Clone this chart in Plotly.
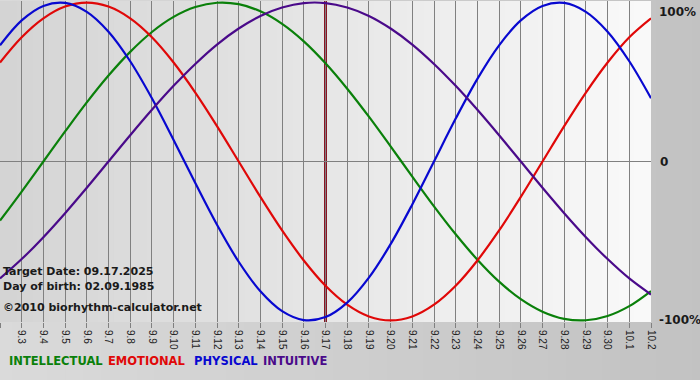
import plotly.graph_objects as go

# ---- data ----
dates = ["9.2", "9.3", "9.4", "9.5", "9.6", "9.7", "9.8", "9.9", "9.10", "9.11",
         "9.12", "9.13", "9.14", "9.15", "9.16", "9.17", "9.18", "9.19", "9.20",
         "9.21", "9.22", "9.23", "9.24", "9.25", "9.26", "9.27", "9.28", "9.29",
         "9.30", "10.1", "10.2"]

intellectual = [-37.2, -18.9, 0, 18.9, 37.2, 54.1, 69.0, 81.5, 91.0, 97.2, 99.9, 99.0,
                94.5, 86.6, 75.6, 61.8, 45.8, 28.2, 9.5, -9.5, -28.2, -45.8, -61.8,
                -75.6, -86.6, -94.5, -99.0, -99.9, -97.2, -91.0, -81.5]
emotional = [62.3, 78.2, 90.1, 97.5, 100, 97.5, 90.1, 78.2, 62.3, 43.4, 22.3, 0,
             -22.3, -43.4, -62.3, -78.2, -90.1, -97.5, -100, -97.5, -90.1, -78.2,
             -62.3, -43.4, -22.3, 0, 22.3, 43.4, 62.3, 78.2, 90.1]
physical = [73.1, 88.8, 97.9, 99.8, 94.2, 81.7, 63.1, 39.8, 13.6, -13.6, -39.8, -63.1,
            -81.7, -94.2, -99.8, -97.9, -88.8, -73.1, -52.0, -27.0, 0, 27.0, 52.0,
            73.1, 88.8, 97.9, 99.8, 94.2, 81.7, 63.1, 39.8]
intuitive = [-73.6, -61.4, -47.6, -32.5, -16.5, 0, 16.5, 32.5, 47.6, 61.4, 73.6, 83.7,
             91.6, 96.9, 99.7, 99.7, 96.9, 91.6, 83.7, 73.6, 61.4, 47.6, 32.5, 16.5,
             0, -16.5, -32.5, -47.6, -61.4, -73.6, -83.7]

target_label = "9.17"
target_text = "Target Date: 09.17.2025"
birth_text = "Day of birth: 02.09.1985"
copyright_text = "©2010 biorhythm-calculator.net"
y_labels = ["100%", "0", "-100%"]
y_values = [100, 0, -100]

series = [
    ("INTELLECTUAL", intellectual, "#0a800a"),
    ("EMOTIONAL", emotional, "#e00808"),
    ("PHYSICAL", physical, "#0808d0"),
    ("INTUITIVE", intuitive, "#4a0a8a"),
]
legend_offsets = [8, 107, 193, 262]

x = list(range(len(dates)))
fig = go.Figure()

for name, vals, col in series:
    fig.add_trace(go.Scatter(x=x, y=vals, mode="lines", name=name,
                             line=dict(color=col, width=2.2, shape="spline", smoothing=1.0),
                             showlegend=False, hoverinfo="skip"))

def lerp_gray(a, b, t):
    v = round(a + (b - a) * t)
    return f"rgb({v},{v},{v})"

shapes = []
# whole-page gradient
N = 40
for i in range(N):
    shapes.append(dict(type="rect", xref="paper", yref="paper",
                       x0=-0.01 + i * 1.1 / N, x1=-0.01 + (i + 1.05) * 1.1 / N,
                       y0=-0.3, y1=1.02, line=dict(width=0),
                       fillcolor=lerp_gray(218, 194, i / (N - 1)), layer="below"))
# plot-area gradient
M = 40
for i in range(M):
    shapes.append(dict(type="rect", xref="paper", yref="paper",
                       x0=i / M, x1=min(1.0, (i + 1.05) / M), y0=0, y1=1,
                       line=dict(width=0),
                       fillcolor=lerp_gray(212, 249, i / (M - 1)), layer="below"))
# target date line
tx = dates.index(target_label)
shapes.append(dict(type="line", xref="x", yref="paper", x0=tx, x1=tx, y0=0, y1=1,
                   line=dict(color="#8a1424", width=3), layer="below"))
# zero line
shapes.append(dict(type="line", xref="paper", yref="y", x0=0, x1=1, y0=0, y1=0,
                   line=dict(color="#808080", width=1), layer="below"))

annotations = []
txt_font = dict(family="DejaVu Sans", size=11, color="#1a1a1a")
for txt, yp in [(target_text, 0.156), (birth_text, 0.11), (copyright_text, 0.046)]:
    annotations.append(dict(text="<b>%s</b>" % txt, xref="paper", yref="paper",
                            x=0, y=yp, xanchor="left", yanchor="middle", xshift=1,
                            showarrow=False, font=txt_font))
for lab, yv in zip(y_labels, y_values):
    annotations.append(dict(text="<b>%s</b>" % lab, xref="paper", yref="y",
                            x=1, y=yv, xanchor="left",
                            yanchor="top" if yv == max(y_values) else "middle",
                            xshift=6 if lab != "0" else 7, showarrow=False,
                            font=dict(family="DejaVu Sans", size=12, color="#1a1a1a")))
for (n, _, c), off in zip(series, legend_offsets):
    annotations.append(dict(text="<b>%s</b>" % n, xref="paper", yref="paper", x=0,
                            y=-0.122, xanchor="left", yanchor="middle", xshift=off - 1,
                            showarrow=False,
                            font=dict(family="DejaVu Sans", size=11.5, color=c)))

fig.update_layout(
    width=700, height=380,
    margin=dict(l=0, r=49, t=1, b=58, pad=0),
    paper_bgcolor="#c8c8c8", plot_bgcolor="rgba(0,0,0,0)",
    shapes=shapes, annotations=annotations,
    xaxis=dict(range=[0, len(dates) - 1], tickvals=x, ticktext=dates, tickangle=90,
               showgrid=True, gridcolor="#808080", gridwidth=1, zeroline=False,
               ticks="outside", ticklen=5, tickcolor="#808080", showline=False,
               tickfont=dict(family="Liberation Sans", size=10, color="#222222"),
               fixedrange=True),
    yaxis=dict(range=[-101, 101], showgrid=False, zeroline=False, showticklabels=False,
               showline=False, fixedrange=True),
    showlegend=False,
)

fig.write_html("out.html")
